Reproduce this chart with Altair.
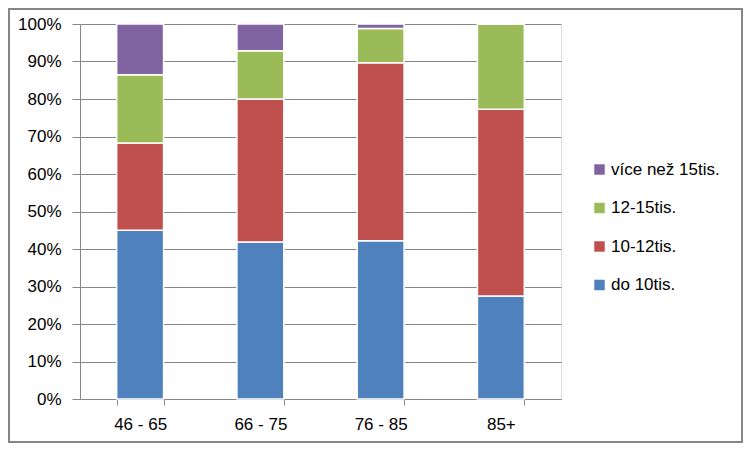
import altair as alt
import pandas as pd

categories = ["46 - 65", "66 - 75", "76 - 85", "85+"]
series = ["do 10tis.", "10-12tis.", "12-15tis.", "více než 15tis."]
do10 = [45.0, 41.9, 42.2, 27.5]
s10_12 = [23.3, 38.1, 47.5, 49.8]
s12_15 = [18.2, 12.9, 9.1, 22.7]
nad15 = [13.5, 7.1, 1.2, 0.0]
colors = ["#4F81BD", "#C0504D", "#9BBB59", "#8064A2"]

rows = []
for si, (name, vals) in enumerate(zip(series, [do10, s10_12, s12_15, nad15])):
    for c, v in zip(categories, vals):
        rows.append({"kat": c, "serie": name, "hodnota": v, "poradi": si})
df = pd.DataFrame(rows)

FONT = "Liberation Sans"
FS = 17

bars = alt.Chart(df).mark_bar(stroke="white", strokeWidth=1.5).encode(
    x=alt.X("kat:N", sort=categories, title=None,
            scale=alt.Scale(paddingInner=0.61, paddingOuter=0.305),
            axis=alt.Axis(labelAngle=0, tickBand="extent", grid=False, domainColor="#868686",
                          tickColor="#868686", tickSize=6, labelFontSize=FS, labelFont=FONT,
                          labelColor="black", labelPadding=11)),
    y=alt.Y("hodnota:Q", stack="normalize", title=None,
            scale=alt.Scale(domain=[0, 1], nice=False),
            axis=alt.Axis(format=".0%", values=[i / 10 for i in range(11)], gridColor="#868686",
                          domainColor="#868686", tickColor="#868686", tickSize=8,
                          labelFontSize=FS, labelFont=FONT, labelColor="black", labelPadding=11)),
    color=alt.Color("serie:N",
                    scale=alt.Scale(domain=series[::-1], range=colors[::-1]),
                    legend=alt.Legend(title=None, orient="none", legendX=511, legendY=137,
                                      symbolType="square", symbolSize=110, symbolStrokeWidth=0,
                                      labelFontSize=FS, labelFont=FONT, labelColor="black",
                                      rowPadding=20.5, labelOffset=3)),
    order=alt.Order("poradi:Q", sort="ascending"),
)

border = alt.Chart(pd.DataFrame({"a": [0]})).mark_rect(
    fill=None, stroke="#868686", strokeWidth=2
).encode(x=alt.value(-71), x2=alt.value(662), y=alt.value(-15), y2=alt.value(418))

chart = alt.layer(border, bars).properties(
    width=481, height=375,
    autosize=alt.AutoSizeParams(type="none"),
    padding={"left": 72, "top": 16, "right": 183, "bottom": 45},
).configure_view(stroke=None).configure(background="white")

chart.save("out.html", embed_options={"renderer": "svg", "actions": False})
